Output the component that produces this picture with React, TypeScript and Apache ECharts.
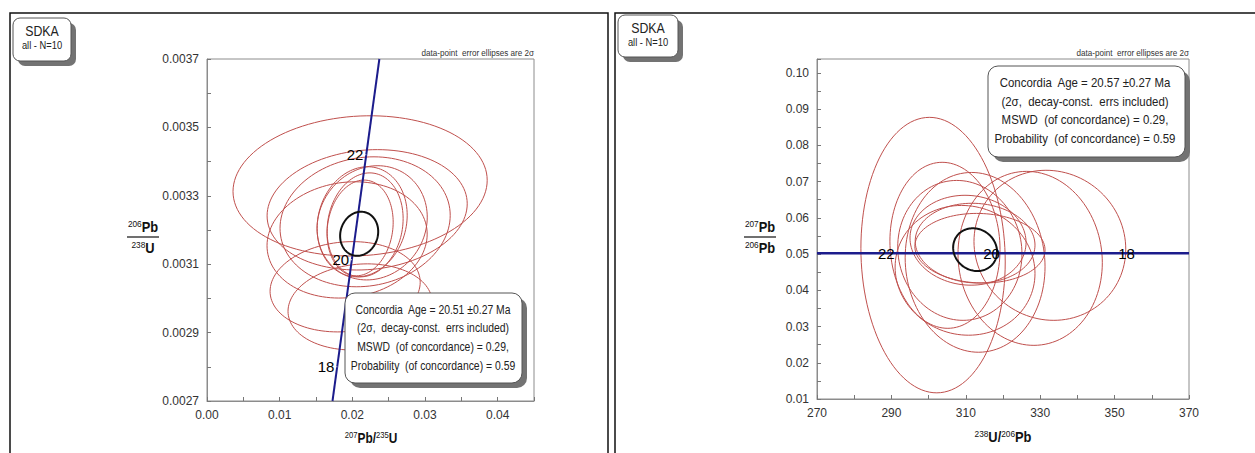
import React, { useEffect, useRef } from 'react';
import * as echarts from 'echarts';

// ---------- Left panel: Wetherill concordia (207Pb/235U vs 206Pb/238U) ----------
const wCenterX = [0.02107, 0.02204, 0.02176, 0.02135, 0.02176, 0.02107, 0.01901, 0.02107, 0.01928, 0.02273];
const wCenterY = [0.003329, 0.003259, 0.003224, 0.003224, 0.003215, 0.003206, 0.003034, 0.002975, 0.003171, 0.003221];
const wSigX = [0.01749, 0.01377, 0.01171, 0.0062, 0.00523, 0.00455, 0.01033, 0.00992, 0.01102, 0.00758];
const wSigY = [0.000205, 0.000176, 0.00019, 0.000161, 0.000152, 0.00014, 0.000132, 0.000126, 0.00017, 0.000167];
const wRho = [0.08, 0.1, 0.1, 0.12, 0.12, 0.12, 0.1, 0.1, 0.1, 0.1];
const wMean = [0.02094, 0.003189, 0.00262, 0.0000644, 0.1];
const wConcordia = [[0.01727, 0.0027], [0.02372, 0.0037]];
const wAgeLabels = ['22', '20', '18'];
const wAgePoints = [[0.02186, 0.00342], [0.0199, 0.003113], [0.01787, 0.0028]];
const wLegend = [
  'Concordia  Age = 20.51 ±0.27 Ma',
  '(2σ,  decay-const.  errs included)',
  'MSWD  (of concordance) = 0.29,',
  'Probability  (of concordance) = 0.59',
];

// ---------- Right panel: Tera-Wasserburg (238U/206Pb vs 207Pb/206Pb) ----------
const tCenterX = [301.2, 332.6, 327.3, 304.4, 308.4, 310.6, 312.5, 313.8, 312.5, 309.8];
const tCenterY = [0.0497, 0.0524, 0.0488, 0.0524, 0.051, 0.0538, 0.053, 0.0516, 0.0477, 0.0455];
const tSigX = [19.4, 20.4, 19.4, 14.8, 16.7, 15.6, 16.1, 17.5, 18.8, 18.8];
const tSigY = [0.038, 0.0207, 0.024, 0.0229, 0.0193, 0.0124, 0.011, 0.0096, 0.0248, 0.0179];
const tRho = [-0.05, -0.05, -0.05, -0.05, -0.05, -0.05, -0.05, -0.05, -0.05, -0.05];
const tMean = [312.5, 0.0512, 5.9, 0.0059, -0.1];
const tConcordia = [[270, 0.0502], [370, 0.0502]];
const tAgeLabels = ['22', '20', '18'];
const tAgePoints = [[291.8, 0.0502], [320.1, 0.0502], [356.4, 0.0502]];
const tLegend = [
  'Concordia  Age = 20.57 ±0.27 Ma',
  '(2σ,  decay-const.  errs included)',
  'MSWD  (of concordance) = 0.29,',
  'Probability  (of concordance) = 0.59',
];

const sampleName = 'SDKA';
const sampleSub = 'all - N=10';
const noteText = 'data-point  error ellipses are 2σ';

const FONT = "'Liberation Sans', Arial, sans-serif";
const RED = '#c0504d';
const BLUE = '#1c1c8c';
const ZTOP = 100;

function ellipseRows(cx: number[], cy: number[], sx: number[], sy: number[], r: number[]) {
  return cx.map((v, i) => [v, cy[i], sx[i], sy[i], r[i]]);
}

function ellipseRender(color: string, width: number) {
  return (params: any, api: any) => {
    const cx = api.value(0), cy = api.value(1), sx = api.value(2), sy = api.value(3), rho = api.value(4);
    const k = Math.sqrt(1 - rho * rho);
    const pts: number[][] = [];
    const n = 120;
    for (let i = 0; i <= n; i++) {
      const t = (i / n) * Math.PI * 2;
      pts.push(api.coord([cx + sx * Math.cos(t), cy + sy * (rho * Math.cos(t) + k * Math.sin(t))]));
    }
    return { type: 'polyline', shape: { points: pts }, style: { fill: 'none', stroke: color, lineWidth: width } };
  };
}

const axisBase = {
  axisLine: { show: true, onZero: false, lineStyle: { color: '#8c8c8c', width: 1 } },
  axisTick: { show: true, inside: true, length: 4, lineStyle: { color: '#777' } },
  minorTick: { show: true, splitNumber: 2, length: 4, lineStyle: { color: '#777' } },
  splitLine: { show: false },
  minorSplitLine: { show: false },
};

function labelStyle(extra: any) {
  return { color: '#333', fontSize: 12, fontFamily: FONT, showMaxLabel: false, ...extra };
}

function txt(x: number, y: number, text: string, fontSize: number, sx: number, extra: any = {}) {
  return {
    type: 'text', z: ZTOP, x, y, scaleX: sx,
    style: { text, fontSize, fontFamily: FONT, fill: '#222', align: 'center', verticalAlign: 'middle', ...extra },
  };
}

function legendBox(x: number, y: number, w: number, h: number, lines: string[], cxText: number, ys: number[], sx: number) {
  const els: any[] = [
    { type: 'rect', z: ZTOP, shape: { x: x + 5, y: y + 5, width: w, height: h, r: 10 }, style: { fill: '#737373' } },
    { type: 'rect', z: ZTOP, shape: { x, y, width: w, height: h, r: 10 }, style: { fill: '#fff', stroke: '#555', lineWidth: 1 } },
  ];
  lines.forEach((t, i) => els.push(txt(cxText, ys[i], t, 13, sx)));
  return els;
}

function sampleBox(x: number, y: number, w: number, h: number) {
  return [
    { type: 'rect', z: ZTOP, shape: { x: x + 5, y: y + 5, width: w, height: h, r: 7 }, style: { fill: '#737373' } },
    { type: 'rect', z: ZTOP, shape: { x, y, width: w, height: h, r: 7 }, style: { fill: '#fff', stroke: '#555', lineWidth: 1 } },
    txt(x + w / 2, y + 13, sampleName, 14, 0.88),
    txt(x + w / 2, y + 27, sampleSub, 11, 0.85),
  ];
}

const rich = {
  s: { fontSize: 9, fontFamily: FONT, color: '#111', verticalAlign: 'top', lineHeight: 16, padding: [0, 0, 6, 0] },
  b: { fontSize: 14, fontWeight: 'bold', fontFamily: FONT, color: '#111', lineHeight: 16 },
};

function supText(x: number, y: number, text: string, sx: number) {
  return {
    type: 'text', x, y, z: ZTOP, scaleX: sx,
    style: { text, rich, align: 'center', verticalAlign: 'middle', fill: '#111' },
  };
}

function fraction(cx: number, top: string, bottom: string) {
  return [
    supText(cx, 227, top, 0.92),
    { type: 'line', z: ZTOP, shape: { x1: cx - 16, y1: 237, x2: cx + 16, y2: 237 }, style: { stroke: '#111', lineWidth: 1.2 } },
    supText(cx, 248, bottom, 0.92),
  ];
}

const ageLabel = (names: string[], dist: number) => ({
  show: true, position: 'left', distance: dist, fontSize: 15, color: '#000', fontFamily: FONT,
  textBorderWidth: 0, formatter: (p: any) => names[p.dataIndex],
});

export default function App() {
  const ref = useRef<HTMLDivElement>(null);
  useEffect(() => {
    document.body.style.margin = '0';
    const chart = echarts.init(ref.current!, null, { renderer: 'svg' });
    const option: any = {
      animation: false,
      backgroundColor: '#fff',
      grid: [
        { left: 207, top: 59, width: 327, height: 342, show: true, borderColor: '#8c8c8c', borderWidth: 1, backgroundColor: 'transparent' },
        { left: 817, top: 59, width: 372, height: 340, show: true, borderColor: '#8c8c8c', borderWidth: 1, backgroundColor: 'transparent' },
      ],
      xAxis: [
        { type: 'value', gridIndex: 0, min: 0, max: 0.045, interval: 0.01, ...axisBase,
          axisLabel: labelStyle({ margin: 8, formatter: (v: number) => v.toFixed(2) }) },
        { type: 'value', gridIndex: 1, min: 270, max: 370, interval: 20, ...axisBase,
          axisLabel: labelStyle({ margin: 8, showMaxLabel: true, formatter: (v: number) => String(Math.round(v)) }) },
      ],
      yAxis: [
        { type: 'value', gridIndex: 0, min: 0.0027, max: 0.0037, interval: 0.0002, ...axisBase,
          axisLabel: labelStyle({ margin: 8, showMaxLabel: true, formatter: (v: number) => v.toFixed(4) }) },
        { type: 'value', gridIndex: 1, min: 0.01, max: 0.1038, interval: 0.01, ...axisBase,
          axisLabel: labelStyle({ margin: 8, formatter: (v: number) => v.toFixed(2) }) },
      ],
      series: [
        { type: 'custom', xAxisIndex: 0, yAxisIndex: 0, encode: { x: 0, y: 1 }, z: 2,
          renderItem: ellipseRender(RED, 1), data: ellipseRows(wCenterX, wCenterY, wSigX, wSigY, wRho) },
        { type: 'line', xAxisIndex: 0, yAxisIndex: 0, z: 3, symbol: 'none', data: wConcordia,
          lineStyle: { color: BLUE, width: 2 } },
        { type: 'custom', xAxisIndex: 0, yAxisIndex: 0, encode: { x: 0, y: 1 }, z: 4,
          renderItem: ellipseRender('#111', 2), data: [wMean] },
        { type: 'scatter', xAxisIndex: 0, yAxisIndex: 0, z: 5, symbolSize: 1, itemStyle: { color: '#fff', opacity: 1 },
          data: wAgePoints, label: ageLabel(wAgeLabels, 2) },

        { type: 'custom', xAxisIndex: 1, yAxisIndex: 1, encode: { x: 0, y: 1 }, z: 2,
          renderItem: ellipseRender(RED, 1), data: ellipseRows(tCenterX, tCenterY, tSigX, tSigY, tRho) },
        { type: 'line', xAxisIndex: 1, yAxisIndex: 1, z: 3, symbol: 'none', data: tConcordia,
          lineStyle: { color: BLUE, width: 2.5 } },
        { type: 'custom', xAxisIndex: 1, yAxisIndex: 1, encode: { x: 0, y: 1 }, z: 4,
          renderItem: ellipseRender('#111', 2), data: [tMean] },
        { type: 'scatter', xAxisIndex: 1, yAxisIndex: 1, z: 5, symbolSize: 1, itemStyle: { color: BLUE, opacity: 1 },
          data: tAgePoints, label: ageLabel(tAgeLabels, 3) },
      ],
      graphic: [
        { type: 'rect', z: ZTOP, shape: { x: 10, y: 13, width: 598, height: 470 }, style: { fill: 'none', stroke: '#111', lineWidth: 1.5 } },
        { type: 'rect', z: ZTOP, shape: { x: 615, y: 13, width: 680, height: 470 }, style: { fill: 'none', stroke: '#111', lineWidth: 1.5 } },
        ...sampleBox(13, 18, 58, 43),
        ...sampleBox(618, 15, 60, 42),
        txt(534, 53, noteText, 9, 0.9, { align: 'right', fill: '#333' }),
        txt(1189, 53, noteText, 9, 0.9, { align: 'right', fill: '#333' }),
        ...legendBox(345, 293, 177, 90, wLegend, 433, [309, 327.5, 346, 365], 0.8),
        ...legendBox(988, 66, 197, 91, tLegend, 1085, [83, 102, 120, 139], 0.88),
        supText(371, 438, '{s|207}{b|Pb/}{s|235}{b|U}', 0.85),
        supText(1003, 437, '{s|238}{b|U/}{s|206}{b|Pb}', 0.92),
        ...fraction(143, '{s|206}{b|Pb}', '{s|238}{b|U}'),
        ...fraction(760, '{s|207}{b|Pb}', '{s|206}{b|Pb}'),
      ],
    };
    chart.setOption(option);
    return () => chart.dispose();
  }, []);
  return <div ref={ref} style={{ width: 1255, height: 453 }} />;
}
